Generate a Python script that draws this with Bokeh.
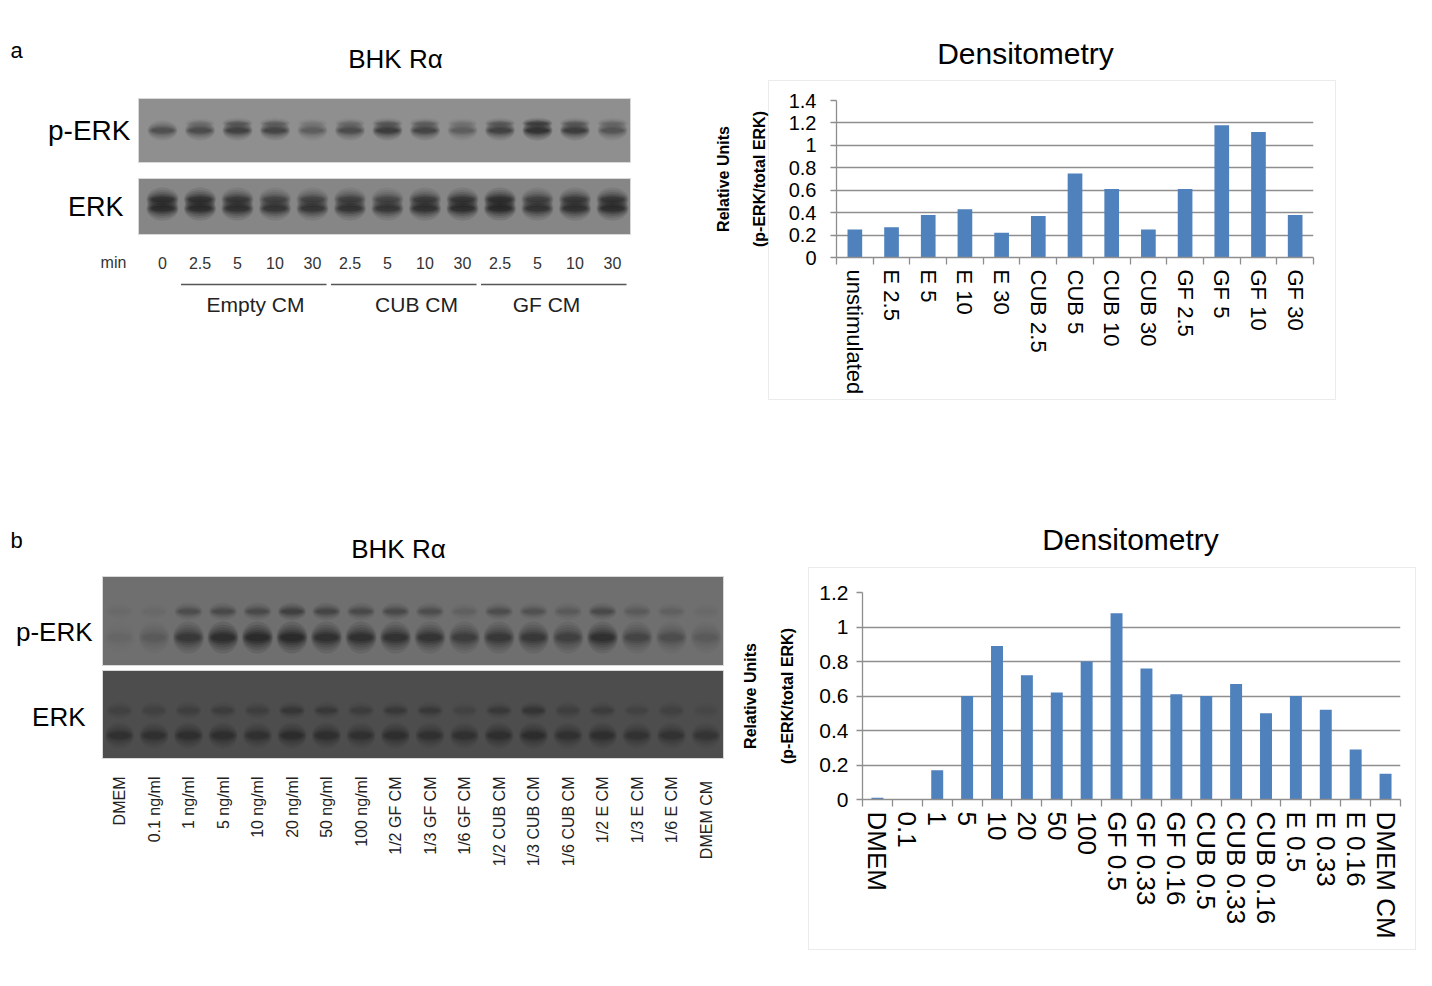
import numpy as np
from math import pi
from bokeh.plotting import figure
from bokeh.layouts import column, row
from bokeh.models import (Range1d, FixedTicker, ColumnDataSource, Spacer,
                          CustomJSTickFormatter)
from bokeh.core.properties import value
from bokeh.embed import file_html
from bokeh.resources import INLINE

FONT = "Liberation Sans"
BLUE = "#4f81bd"
GRID = "#8e8e8e"

# ---------------- data: panel a ----------------
a_categories = ["unstimulated", "E 2.5", "E 5", "E 10", "E 30", "CUB 2.5", "CUB 5",
                "CUB 10", "CUB 30", "GF 2.5", "GF 5", "GF 10", "GF 30"]
a_values = [0.25, 0.27, 0.38, 0.43, 0.22, 0.37, 0.75, 0.61, 0.25, 0.61, 1.18, 1.12, 0.38]
a_y_ticks = [0, 0.2, 0.4, 0.6, 0.8, 1.0, 1.2, 1.4]
a_lane_labels = ["0", "2.5", "5", "10", "30", "2.5", "5", "10", "30", "2.5", "5", "10", "30"]
a_groups = ["Empty CM", "CUB CM", "GF CM"]
a_group_lanes = [(1, 4), (5, 8), (9, 12)]
a_perk_band = [0.55, 0.6, 0.75, 0.7, 0.4, 0.6, 0.8, 0.7, 0.4, 0.75, 1.0, 0.8, 0.5]
a_perk_upper = [0.0, 0.1, 0.3, 0.25, 0.05, 0.15, 0.3, 0.25, 0.1, 0.3, 0.6, 0.3, 0.2]
a_erk_upper = [0.85, 0.85, 0.7, 0.55, 0.55, 0.6, 0.5, 0.65, 0.75, 0.9, 0.6, 0.7, 0.75]
a_erk_lower = [0.95, 0.95, 0.9, 0.8, 0.8, 0.85, 0.8, 0.9, 0.95, 1.0, 0.85, 0.9, 0.95]

# ---------------- data: panel b ----------------
b_categories = ["DMEM", "0.1", "1", "5", "10", "20", "50", "100", "GF 0.5", "GF 0.33",
                "GF 0.16", "CUB 0.5", "CUB 0.33", "CUB 0.16", "E 0.5", "E 0.33", "E 0.16",
                "DMEM CM"]
b_values = [0.01, 0.003, 0.17, 0.60, 0.89, 0.72, 0.62, 0.80, 1.08, 0.76, 0.61, 0.60,
            0.67, 0.50, 0.60, 0.52, 0.29, 0.15]
b_y_ticks = [0, 0.2, 0.4, 0.6, 0.8, 1.0, 1.2]
b_lane_labels = ["DMEM", "0.1 ng/ml", "1 ng/ml", "5 ng/ml", "10 ng/ml", "20 ng/ml",
                 "50 ng/ml", "100 ng/ml", "1/2 GF CM", "1/3 GF CM", "1/6 GF CM",
                 "1/2 CUB CM", "1/3 CUB CM", "1/6 CUB CM", "1/2 E CM", "1/3 E CM",
                 "1/6 E CM", "DMEM  CM"]
b_perk_upper = [0.02, 0.03, 0.35, 0.4, 0.4, 0.55, 0.45, 0.4, 0.4, 0.35, 0.1, 0.35,
                0.3, 0.2, 0.4, 0.2, 0.1, 0.02]
b_perk_lower = [0.05, 0.2, 0.7, 0.9, 0.95, 1.0, 0.85, 0.85, 0.8, 0.75, 0.6, 0.7,
                0.7, 0.55, 0.85, 0.45, 0.35, 0.2]
b_erk_upper = [0.15, 0.15, 0.2, 0.25, 0.2, 0.35, 0.3, 0.25, 0.3, 0.3, 0.1, 0.3,
               0.4, 0.2, 0.25, 0.1, 0.15, 0.05]
b_erk_lower = [0.5, 0.5, 0.55, 0.55, 0.5, 0.6, 0.55, 0.5, 0.55, 0.5, 0.5, 0.55,
               0.6, 0.5, 0.55, 0.45, 0.45, 0.4]


def canvas(x0, x1, y0, y1, width=None):
    p = figure(width=width or (x1 - x0), height=y1 - y0, x_range=Range1d(x0, x1),
               y_range=Range1d(y1, y0), x_axis_type=None, y_axis_type=None,
               toolbar_location=None, output_backend="svg", min_border=0,
               outline_line_color=None)
    p.background_fill_color = "white"
    p.border_fill_color = "white"
    return p


def txt(p, x, y, s, size, align="left", color="#000000", angle=0.0, style="normal"):
    p.text(x=[x], y=[y], text=[s], text_font=value(FONT), text_font_size=size,
           text_align=align, text_baseline="middle", text_color=color, angle=angle,
           text_font_style=style)


def bands(p, xs, y, intensity, w, h):
    inten = np.array(intensity, dtype=float)
    n = len(xs)
    layers = [(1.0, 2.0, 0.12), (0.96, 1.6, 0.14), (0.92, 1.25, 0.17),
              (0.86, 0.95, 0.20), (0.80, 0.7, 0.24), (0.72, 0.45, 0.28)]
    for fw, fh, fa in layers:
        p.ellipse(x=list(xs), y=[y] * n, width=w * fw, height=h * fh,
                  fill_color="#121212", fill_alpha=list(inten * fa), line_color=None)


def blot(p, x0, x1, y0, y1, fill):
    p.quad(left=[x0], right=[x1], top=[y0], bottom=[y1], fill_color=fill,
           line_color="#d8d8d8", line_width=1)


def box_styles(width, height, box_left, color="#ebebeb"):
    g = f"linear-gradient({color}, {color})"
    bw = width - box_left
    return {
        "background-color": "white",
        "background-image": ", ".join([g] * 4),
        "background-size": f"{bw}px 1px, {bw}px 1px, 1px {height}px, 1px {height}px",
        "background-position": (f"{box_left}px 0px, {box_left}px {height - 1}px, "
                                f"{box_left}px 0px, {width - 1}px 0px"),
        "background-repeat": "no-repeat",
    }


def bar_chart(categories, values, ticks, width, height, left, right, top, bottom,
              box_left, tick_size, cat_size, label_standoff, tick_standoff, line_h):
    n = len(categories)
    p = figure(width=width, height=height, x_range=Range1d(0, n),
               y_range=Range1d(0, ticks[-1]), toolbar_location=None,
               output_backend="svg", min_border_left=left, min_border_right=right,
               min_border_top=top, min_border_bottom=bottom,
               styles=box_styles(width, height, box_left))
    p.background_fill_color = "white"
    p.border_fill_color = None
    p.outline_line_color = None
    centers = [i + 0.5 for i in range(n)]
    src = ColumnDataSource(dict(x=centers, top=values, label=categories))
    p.vbar(x="x", top="top", width=0.4, source=src, fill_color=BLUE, line_color=None)

    xa = p.xaxis[0]
    xa.ticker = FixedTicker(ticks=centers, minor_ticks=list(range(n + 1)))
    xa.major_label_overrides = {c: lab for c, lab in zip(centers, categories)}
    xa.major_label_orientation = "vertical"
    xa.major_tick_line_color = None
    xa.major_tick_out = 0
    xa.major_tick_in = 0
    xa.minor_tick_line_color = GRID
    xa.minor_tick_out = 7
    xa.minor_tick_in = 0
    xa.minor_tick_line_width = 1.3
    xa.axis_line_color = GRID
    xa.axis_line_width = 1.3
    xa.major_label_text_font = FONT
    xa.major_label_text_font_size = cat_size
    xa.major_label_text_color = "#000000"
    xa.major_label_standoff = 5

    ya = p.yaxis[0]
    ya.ticker = FixedTicker(ticks=ticks)
    ya.formatter = CustomJSTickFormatter(code="return String(Math.round(tick * 10) / 10);")
    ya.axis_line_color = GRID
    ya.axis_line_width = 1.3
    ya.major_tick_line_color = GRID
    ya.major_tick_line_width = 1.3
    ya.major_tick_out = 6
    ya.major_tick_in = 0
    ya.minor_tick_line_color = None
    ya.major_label_text_font = FONT
    ya.major_label_text_font_size = tick_size
    ya.major_label_text_color = "#000000"
    ya.major_label_standoff = tick_standoff
    ya.axis_label = "Relative Units\n(p-ERK/total ERK)"
    ya.axis_label_text_font = FONT
    ya.axis_label_text_font_style = "bold"
    ya.axis_label_text_font_size = "16px"
    ya.axis_label_text_color = "#000000"
    ya.axis_label_text_line_height = line_h
    ya.axis_label_standoff = label_standoff

    p.xgrid.visible = False
    p.ygrid.grid_line_color = GRID
    p.ygrid.grid_line_width = 1.3
    return p


# ================= panel a (top row, y 0..430) =================
cA = canvas(0, 700, 0, 430)
txt(cA, 10, 50, "a", "22px")
txt(cA, 395, 58, "BHK Rα", "26px", align="center")
blot(cA, 138, 630, 98, 162, "#8f8f8f")
blot(cA, 138, 630, 178, 234, "#868686")
txt(cA, 130, 130, "p-ERK", "28px", align="right")
txt(cA, 123, 206, "ERK", "27px", align="right")

a_lane_x = [162 + 37.5 * i for i in range(len(a_lane_labels))]
bands(cA, a_lane_x, 123, a_perk_upper, 30, 6)
bands(cA, a_lane_x, 130, a_perk_band, 30, 10)
bands(cA, a_lane_x, 199, a_erk_upper, 32, 12)
bands(cA, a_lane_x, 208, a_erk_lower, 32, 12)

txt(cA, 113, 262, "min", "16px", align="center", color="#333333")
cA.text(x=a_lane_x, y=[262] * len(a_lane_x), text=a_lane_labels,
        text_font=value(FONT), text_font_size="16px", text_align="center",
        text_baseline="middle", text_color="#333333")
seg_x0 = [a_lane_x[i0] - 19 for i0, _ in a_group_lanes]
seg_x1 = [a_lane_x[i1] + 14 for _, i1 in a_group_lanes]
cA.segment(x0=seg_x0, x1=seg_x1, y0=[284] * 3, y1=[284] * 3, line_color="#555555",
           line_width=1.5)
cA.text(x=[255, 416, 546], y=[304] * 3, text=a_groups, text_font=value(FONT),
        text_font_size="21px", text_align="center", text_baseline="middle",
        text_color="#222222")

# chart a geometry (page px): figure x 700..1336, y 80..400
A_X0, A_W, A_LEFT, A_RIGHT = 700, 636, 136, 23
chartA = bar_chart(a_categories, a_values, a_y_ticks, width=A_W, height=320,
                   left=A_LEFT, right=A_RIGHT, top=20, bottom=143, box_left=68,
                   tick_size="20px", cat_size="22px", label_standoff=18,
                   tick_standoff=14, line_h=2.1)
# the title strip shares the chart's aligned frame columns
tA = canvas(A_X0 + A_LEFT, A_X0 + A_W - A_RIGHT, 0, 80, width=A_W)
txt(tA, 1025, 53, "Densitometry", "30px", align="center")

top_row = row(cA, column(tA, chartA, Spacer(width=A_W, height=30)))

# ================= panel b (bottom row, y 430..960) =================
cB = canvas(0, 730, 430, 960)
txt(cB, 10, 540, "b", "22px")
txt(cB, 398, 548, "BHK Rα", "26px", align="center")
blot(cB, 102, 723, 576, 665, "#6f6f6f")
blot(cB, 102, 723, 670, 758, "#4d4d4d")
txt(cB, 92, 631, "p-ERK", "26px", align="right")
txt(cB, 85, 716, "ERK", "26px", align="right")

b_lane_x = [119 + 34.5 * i for i in range(len(b_lane_labels))]
bands(cB, b_lane_x, 611, b_perk_upper, 28, 9)
bands(cB, b_lane_x, 637, b_perk_lower, 31, 16)
bands(cB, b_lane_x, 710, b_erk_upper, 26, 9)
bands(cB, b_lane_x, 735, b_erk_lower, 29, 13)

cB.text(x=b_lane_x, y=[776] * len(b_lane_x), text=b_lane_labels,
        text_font=value(FONT), text_font_size="16px", text_align="right",
        text_baseline="middle", text_color="#222222", angle=pi / 2)

B_X0, B_W, B_LEFT, B_RIGHT = 730, 686, 132, 16
chartB = bar_chart(b_categories, b_values, b_y_ticks, width=B_W, height=383,
                   left=B_LEFT, right=B_RIGHT, top=25, bottom=151, box_left=78,
                   tick_size="21px", cat_size="26px", label_standoff=20,
                   tick_standoff=8, line_h=2.2)
tB = canvas(B_X0 + B_LEFT, B_X0 + B_W - B_RIGHT, 430, 567, width=B_W)
txt(tB, 1130, 539, "Densitometry", "30px", align="center")

bottom_row = row(cB, column(tB, chartB, Spacer(width=B_W, height=10)))

layout = column(top_row, bottom_row)

open("out.html", "w").write(file_html(layout, INLINE))
